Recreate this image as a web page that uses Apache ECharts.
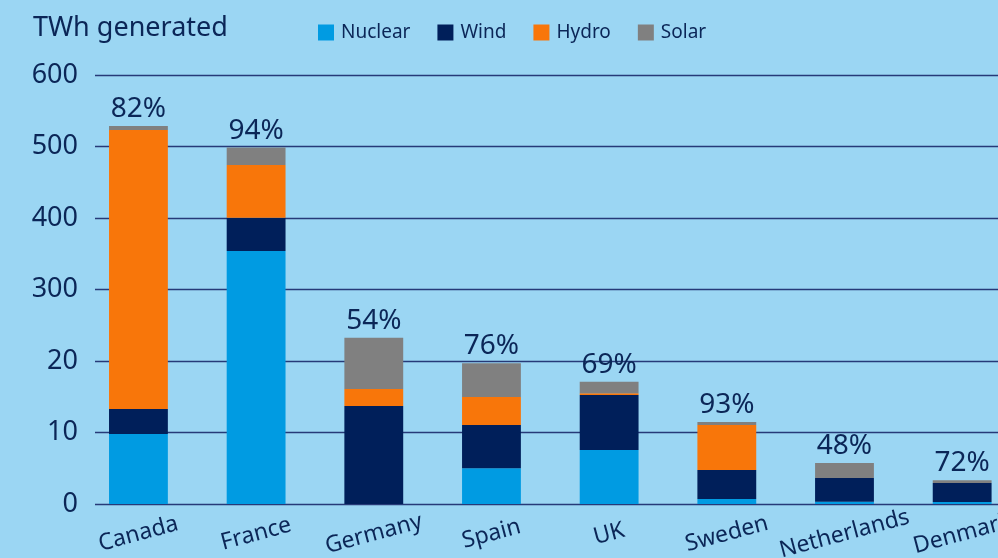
<!DOCTYPE html>
<html>
<head>
<meta charset="utf-8">
<script src="https://cdn.jsdelivr.net/npm/echarts@6/dist/echarts.min.js"></script>
<style>
  html, body { margin: 0; padding: 0; background: #9bd6f3; overflow: hidden; }
  #chart { width: 1021px; height: 558px; }
</style>
</head>
<body>
<div id="chart"></div>
<script>
const categories = ['Canada', 'France', 'Germany', 'Spain', 'UK', 'Sweden', 'Netherlands', 'Denmark'];
const nuclear = [98, 354, 0, 50, 75.5, 7, 3, 2.7];
const wind    = [35, 46.5, 137, 60.5, 77, 40.5, 33.5, 26.7];
const hydro   = [390, 73.5, 24, 39, 2.5, 63, 0, 0];
const solar   = [5.5, 24.5, 71.5, 47.5, 16, 4.2, 21, 3.7];
const pctLabels = ['82%', '94%', '54%', '76%', '69%', '93%', '48%', '72%'];
const yTickLabels = ['0', '10', '20', '300', '400', '500', '600'];

const ink = '#0b2657';
const fontFam = '"Noto Sans", "Open Sans", sans-serif';

const chart = echarts.init(document.getElementById('chart'));

function barSeries(name, data, color, extra) {
  return Object.assign({
    name: name,
    type: 'bar',
    stack: 'total',
    xAxisIndex: 1,
    yAxisIndex: 1,
    barWidth: '50%',
    itemStyle: { color: color },
    data: data
  }, extra || {});
}

chart.setOption({
  backgroundColor: '#9bd6f3',
  animation: false,
  textStyle: { fontFamily: fontFam, color: ink },
  title: {
    text: 'TWh generated',
    left: 28, top: 10,
    textStyle: { fontFamily: fontFam, fontSize: 27, fontWeight: 'normal', color: ink }
  },
  legend: {
    left: 318, top: 23, padding: 0,
    itemWidth: 16, itemHeight: 16, itemGap: 27,
    icon: 'rect',
    textStyle: { fontFamily: fontFam, fontSize: 19, color: ink, padding: [0, 0, 0, 2] },
    data: ['Nuclear', 'Wind', 'Hydro', 'Solar']
  },
  grid: [
    { left: 95, right: 0, top: 75, bottom: 54, containLabel: false, outerBoundsMode: 'none' },
    { left: 79.6, right: 0, top: 75, bottom: 54, containLabel: false, outerBoundsMode: 'none' }
  ],
  xAxis: [
    { type: 'value', gridIndex: 0, show: false, min: 0, max: 1 },
    {
      type: 'category', gridIndex: 1, data: categories,
      axisLine: { show: false }, axisTick: { show: false },
      axisLabel: {
        rotate: 15, align: 'center', verticalAlign: 'middle', margin: 30,
        fontSize: 23, color: ink, fontFamily: fontFam, interval: 0
      }
    }
  ],
  yAxis: [
    {
      type: 'value', gridIndex: 0, min: 0, max: 600, interval: 100,
      axisLine: { show: false }, axisTick: { show: false },
      axisLabel: {
        margin: 17, fontSize: 27, color: ink, fontFamily: fontFam,
        formatter: function (v) { return yTickLabels[Math.round(v / 100)]; }
      },
      splitLine: { lineStyle: { color: '#263a78', width: 1.3 } }
    },
    {
      type: 'value', gridIndex: 1, min: 0, max: 600, interval: 100, show: false,
      splitLine: { show: false }
    }
  ],
  series: [
    barSeries('Nuclear', nuclear, '#009be2'),
    barSeries('Wind', wind, '#001f5a'),
    barSeries('Hydro', hydro, '#f8760a'),
    barSeries('Solar', solar, '#808080', {
      label: {
        show: true, position: 'top', distance: 3,
        fontSize: 28, color: ink, fontFamily: fontFam,
        formatter: function (p) { return pctLabels[p.dataIndex]; }
      }
    })
  ]
});
</script>
</body>
</html>
